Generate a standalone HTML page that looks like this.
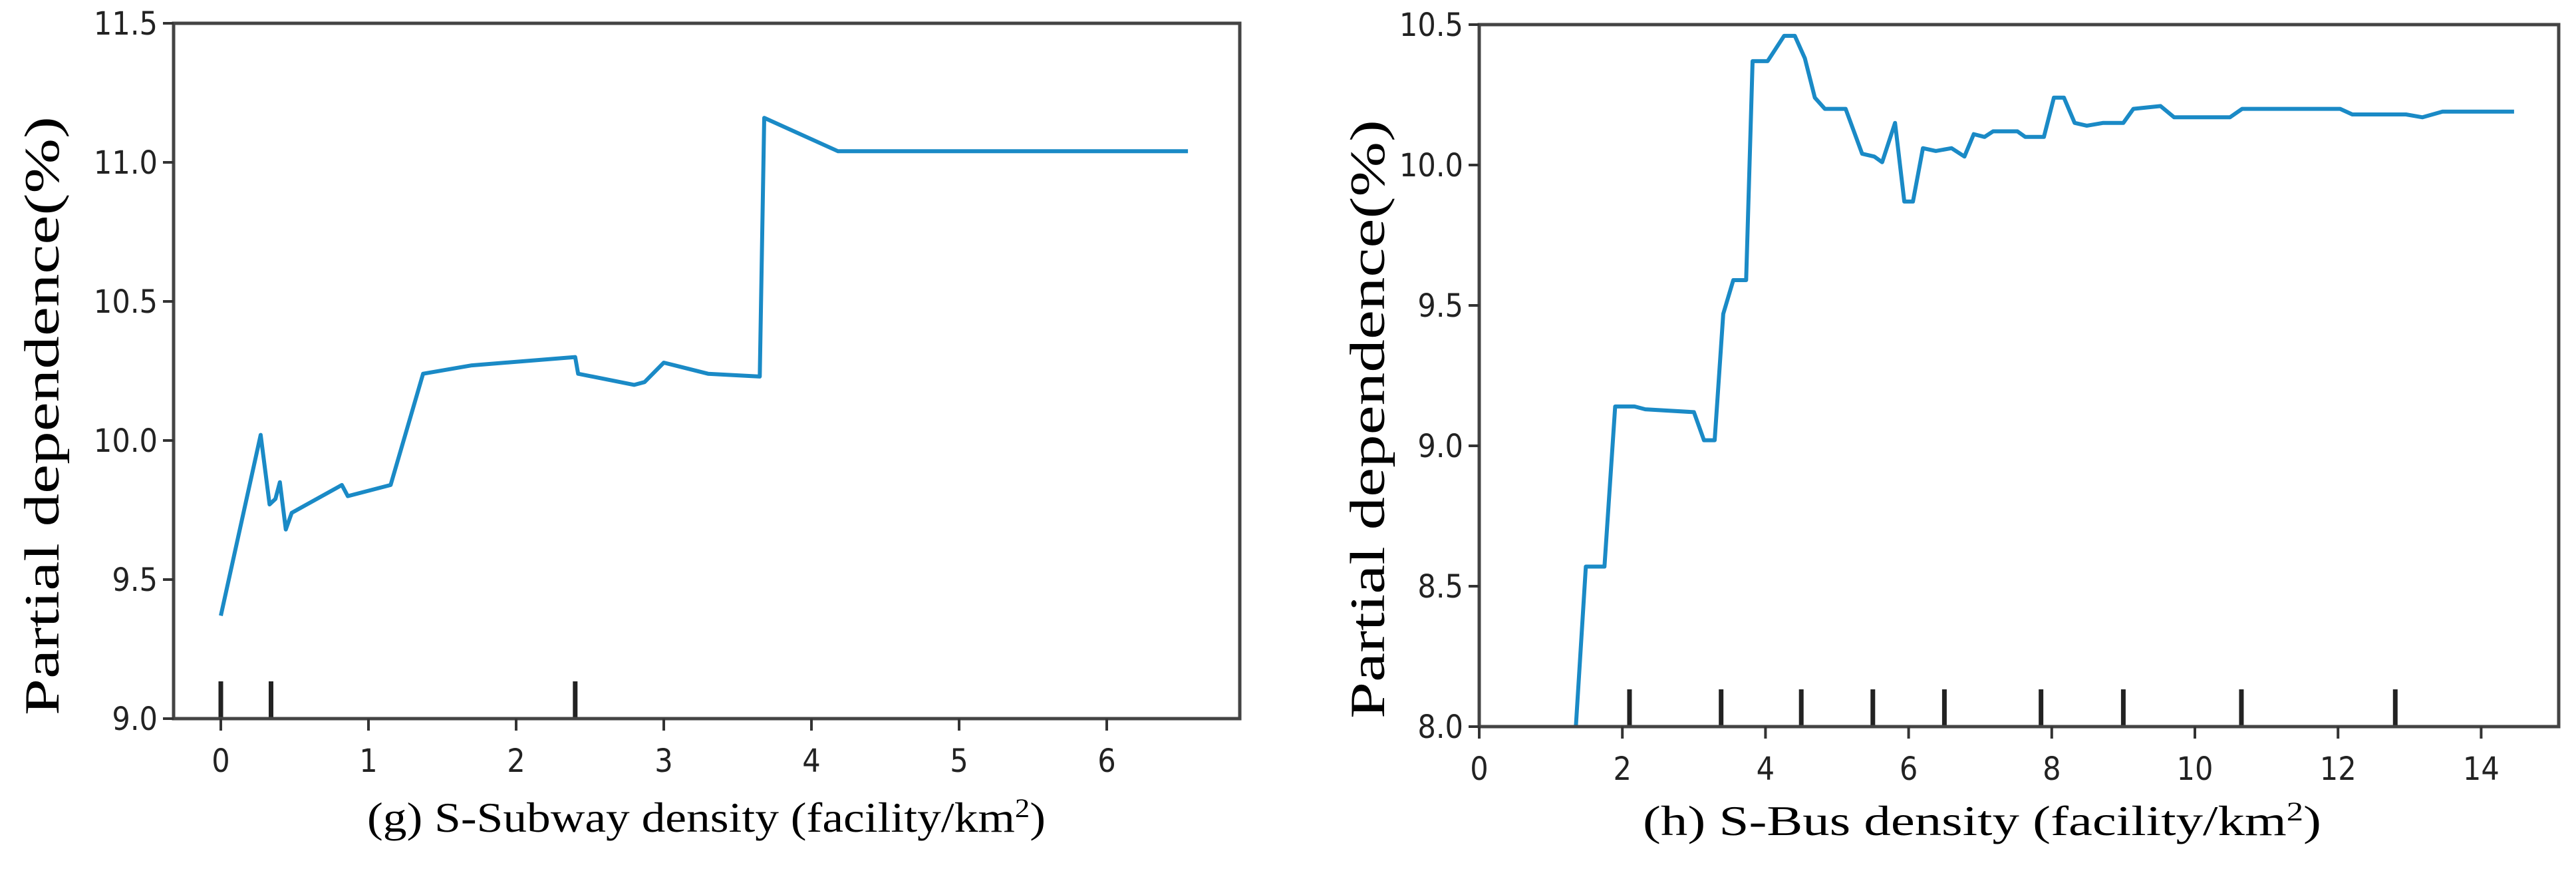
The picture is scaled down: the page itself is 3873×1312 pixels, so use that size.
<!DOCTYPE html>
<html><head><meta charset="utf-8">
<style>
html,body{margin:0;padding:0;background:#fff;}
svg{display:block;}
.tick{font-family:"DejaVu Sans Condensed","DejaVu Sans","Liberation Sans",sans-serif;font-size:48px;fill:#222;}
.lab{font-family:"Liberation Serif",serif;fill:#000;}
</style></head>
<body>
<svg id="svg" width="3873" height="1312" viewBox="0 0 3873 1312" xmlns="http://www.w3.org/2000/svg">
  <text class="lab" font-size="74" transform="translate(88,625) rotate(-90)" text-anchor="middle" textLength="900" lengthAdjust="spacingAndGlyphs">Partial dependence(%)</text>
  <text class="lab" font-size="64" x="1062" y="1250" text-anchor="middle" textLength="1020" lengthAdjust="spacingAndGlyphs">(g) S-Subway density (facility/km<tspan font-size="40" dy="-22">2</tspan><tspan dy="22">)</tspan></text>
  <text class="lab" font-size="74" transform="translate(2081,630) rotate(-90)" text-anchor="middle" textLength="900" lengthAdjust="spacingAndGlyphs">Partial dependence(%)</text>
  <text class="lab" font-size="64" x="2980" y="1255" text-anchor="middle" textLength="1020" lengthAdjust="spacingAndGlyphs">(h) S-Bus density (facility/km<tspan font-size="40" dy="-22">2</tspan><tspan dy="22">)</tspan></text>
</svg>
<script>
// Chart g data
const gX = [0,0.27,0.33,0.37,0.40,0.44,0.48,0.82,0.86,1.15,1.37,1.70,2.40,2.42,2.80,2.87,3.00,3.30,3.65,3.68,4.18,6.55];
const gY = [9.37,10.02,9.77,9.79,9.85,9.68,9.74,9.84,9.80,9.84,10.24,10.27,10.30,10.24,10.20,10.21,10.28,10.24,10.23,11.16,11.04,11.04];
const gRug = [0,0.34,2.4];
const gXTicks = [0,1,2,3,4,5,6];
const gYTicks = [9.0,9.5,10.0,10.5,11.0,11.5];
// Chart h data
const hX = [1.35,1.49,1.75,1.90,2.17,2.32,3.00,3.14,3.29,3.41,3.55,3.73,3.82,4.03,4.26,4.41,4.55,4.69,4.83,5.12,5.35,5.52,5.63,5.81,5.94,6.06,6.20,6.38,6.60,6.78,6.91,7.06,7.18,7.52,7.63,7.89,8.03,8.17,8.32,8.49,8.72,9.00,9.14,9.52,9.71,10.49,10.66,12.03,12.20,12.95,13.18,13.46,14.46];
const hY = [8.0,8.57,8.57,9.14,9.14,9.13,9.12,9.02,9.02,9.47,9.59,9.59,10.37,10.37,10.46,10.46,10.38,10.24,10.20,10.20,10.04,10.03,10.01,10.15,9.87,9.87,10.06,10.05,10.06,10.03,10.11,10.10,10.12,10.12,10.10,10.10,10.24,10.24,10.15,10.14,10.15,10.15,10.20,10.21,10.17,10.17,10.20,10.20,10.18,10.18,10.17,10.19,10.19];
const hRug = [2.1,3.38,4.5,5.5,6.5,7.85,9.0,10.65,12.8];
const hXTicks = [0,2,4,6,8,10,12,14];
const hYTicks = [8.0,8.5,9.0,9.5,10.0,10.5];

const NS="http://www.w3.org/2000/svg";
const svg=document.getElementById('svg');
function mk(tag,attrs){const e=document.createElementNS(NS,tag);for(const k in attrs)e.setAttribute(k,attrs[k]);svg.appendChild(e);return e;}

function chart(p,xs,ys,rug,xt,yt,fmtX,prefix){
  const sx=v=>p.x0+(v-p.xmin)*p.ux;
  const sy=v=>p.bottom-(v-p.ymin)*(p.bottom-p.top)/(p.ymax-p.ymin);
  let d='';
  for(let i=0;i<xs.length;i++){d+=(i?'L':'M')+sx(xs[i]).toFixed(1)+','+sy(ys[i]).toFixed(1);}
  const ln=mk('path',{d:d,fill:'none',stroke:'#1a8ac6','stroke-width':6,'stroke-linejoin':'round'});
  
  
  rug.forEach(v=>{
    const r=mk('line',{x1:sx(v),x2:sx(v),y1:p.bottom,y2:p.bottom-56,stroke:'#222','stroke-width':7});
    
    
  });
  const fr=mk('rect',{x:p.left,y:p.top,width:p.right-p.left,height:p.bottom-p.top,fill:'none',stroke:'#444','stroke-width':5});
  
  
  xt.forEach(v=>{
    const t=mk('line',{x1:sx(v),x2:sx(v),y1:p.bottom,y2:p.bottom+18,stroke:'#333','stroke-width':4});
    
    
    const tx=mk('text',{x:sx(v),y:p.bottom+80,'text-anchor':'middle',class:'tick'});
    tx.textContent=fmtX(v);
    
    
  });
  yt.forEach(v=>{
    const t=mk('line',{x1:p.left-16,x2:p.left,y1:sy(v),y2:sy(v),stroke:'#333','stroke-width':4});
    
    
    const tx=mk('text',{x:p.left-24,y:sy(v)+17,'text-anchor':'end',class:'tick'});
    tx.textContent=v.toFixed(1);
    
    
  });
}
chart({left:261,right:1864,top:35,bottom:1080,x0:332,xmin:0,ux:222,ymin:9.0,ymax:11.5},gX,gY,gRug,gXTicks,gYTicks,v=>String(v),'g');
chart({left:2224,right:3847,top:37,bottom:1092,x0:2224,xmin:0,ux:107.6,ymin:8.0,ymax:10.5},hX,hY,hRug,hXTicks,hYTicks,v=>String(v),'h');
</script>
</body></html>
